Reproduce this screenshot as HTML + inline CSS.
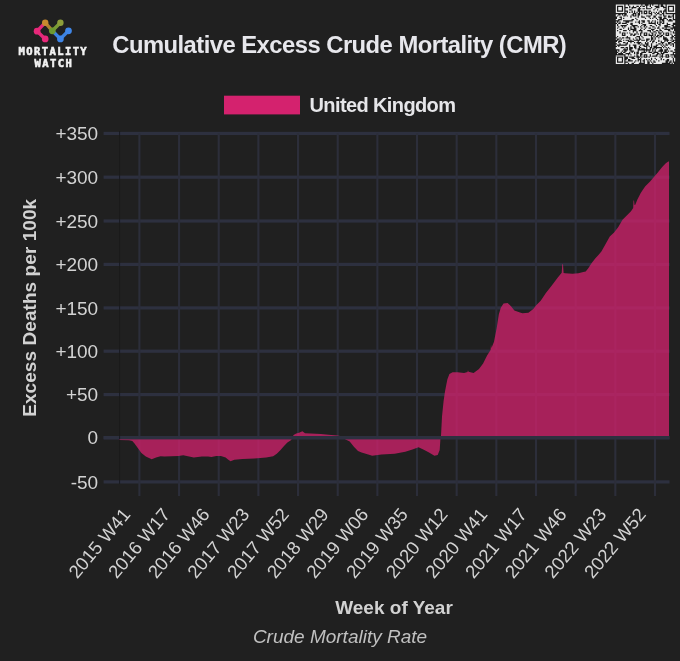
<!DOCTYPE html><html><head><meta charset="utf-8"><style>
html,body{margin:0;padding:0;background:#202020;width:680px;height:661px;overflow:hidden}
svg{display:block;will-change:transform}
text{font-family:"Liberation Sans",Arial,sans-serif}
</style></head><body>
<svg width="680" height="661" viewBox="0 0 680 661">
<rect width="680" height="661" fill="#202020"/>
<g stroke-linecap="round" fill="none" stroke-width="3.4">
<path d="M45.2 22.7 L37.1 31.2 L45.2 38.9" stroke="#e3297a"/>
<path d="M45.2 22.7 L52.3 30.8" stroke="#b08030"/>
<path d="M52.3 30.8 L60.4 22.7" stroke="#7a9a35"/>
<path d="M52.3 30.8 L60.4 38.9 L68.5 30.8" stroke="#3c82e0"/>
</g>
<g>
<circle cx="45.2" cy="22.7" r="3.2" fill="#c98a2e"/>
<circle cx="37.1" cy="31.2" r="3.35" fill="#e8287a"/>
<circle cx="45.2" cy="38.9" r="3.35" fill="#e8287a"/>
<circle cx="52.3" cy="30.8" r="3.35" fill="#6e9a30"/>
<circle cx="60.4" cy="22.7" r="3.2" fill="#8d9e3a"/>
<circle cx="68.5" cy="30.8" r="3.35" fill="#3f86e8"/>
<circle cx="60.4" cy="38.9" r="3.35" fill="#3f86e8"/>
</g>
<text x="53.35" y="55.0" text-anchor="middle" font-weight="bold" font-size="10.5" letter-spacing="1.4" fill="#f2f2f2" stroke="#f2f2f2" stroke-width="0.55" style="font-family:'DejaVu Sans Mono',monospace">MORTALITY</text>
<text x="53.9" y="66.7" text-anchor="middle" font-weight="bold" font-size="10.5" letter-spacing="1.4" fill="#f2f2f2" stroke="#f2f2f2" stroke-width="0.55" style="font-family:'DejaVu Sans Mono',monospace">WATCH</text>
<rect x="615.8" y="4.5" width="59.4" height="59.4" fill="#1a1a1a"/>
<path d="M615.80 4.50h8.49v1.21h-8.49zM625.50 4.50h2.42v1.21h-2.42zM629.13 4.50h12.12v1.21h-12.12zM642.47 4.50h2.42v1.21h-2.42zM648.53 4.50h1.21v1.21h-1.21zM650.96 4.50h1.21v1.21h-1.21zM653.38 4.50h4.85v1.21h-4.85zM659.44 4.50h1.21v1.21h-1.21zM663.08 4.50h2.42v1.21h-2.42zM666.71 4.50h8.49v1.21h-8.49zM615.80 5.71h1.21v1.21h-1.21zM623.07 5.71h1.21v1.21h-1.21zM625.50 5.71h3.64v1.21h-3.64zM630.35 5.71h2.42v1.21h-2.42zM633.98 5.71h2.42v1.21h-2.42zM638.83 5.71h1.21v1.21h-1.21zM641.26 5.71h1.21v1.21h-1.21zM644.89 5.71h1.21v1.21h-1.21zM647.32 5.71h2.42v1.21h-2.42zM650.96 5.71h3.64v1.21h-3.64zM659.44 5.71h1.21v1.21h-1.21zM664.29 5.71h1.21v1.21h-1.21zM666.71 5.71h1.21v1.21h-1.21zM673.99 5.71h1.21v1.21h-1.21zM615.80 6.92h1.21v1.21h-1.21zM618.22 6.92h3.64v1.21h-3.64zM623.07 6.92h1.21v1.21h-1.21zM627.92 6.92h1.21v1.21h-1.21zM630.35 6.92h1.21v1.21h-1.21zM636.41 6.92h2.42v1.21h-2.42zM640.04 6.92h6.06v1.21h-6.06zM647.32 6.92h3.64v1.21h-3.64zM652.17 6.92h3.64v1.21h-3.64zM659.44 6.92h3.64v1.21h-3.64zM666.71 6.92h1.21v1.21h-1.21zM669.14 6.92h3.64v1.21h-3.64zM673.99 6.92h1.21v1.21h-1.21zM615.80 8.14h1.21v1.21h-1.21zM618.22 8.14h3.64v1.21h-3.64zM623.07 8.14h1.21v1.21h-1.21zM625.50 8.14h6.06v1.21h-6.06zM632.77 8.14h4.85v1.21h-4.85zM641.26 8.14h1.21v1.21h-1.21zM644.89 8.14h1.21v1.21h-1.21zM650.96 8.14h3.64v1.21h-3.64zM655.80 8.14h9.70v1.21h-9.70zM666.71 8.14h1.21v1.21h-1.21zM669.14 8.14h3.64v1.21h-3.64zM673.99 8.14h1.21v1.21h-1.21zM615.80 9.35h1.21v1.21h-1.21zM618.22 9.35h3.64v1.21h-3.64zM623.07 9.35h1.21v1.21h-1.21zM625.50 9.35h3.64v1.21h-3.64zM631.56 9.35h6.06v1.21h-6.06zM640.04 9.35h13.33v1.21h-13.33zM654.59 9.35h2.42v1.21h-2.42zM658.23 9.35h6.06v1.21h-6.06zM666.71 9.35h1.21v1.21h-1.21zM669.14 9.35h3.64v1.21h-3.64zM673.99 9.35h1.21v1.21h-1.21zM615.80 10.56h1.21v1.21h-1.21zM623.07 10.56h1.21v1.21h-1.21zM627.92 10.56h3.64v1.21h-3.64zM632.77 10.56h1.21v1.21h-1.21zM635.20 10.56h2.42v1.21h-2.42zM642.47 10.56h1.21v1.21h-1.21zM647.32 10.56h1.21v1.21h-1.21zM650.96 10.56h8.49v1.21h-8.49zM661.87 10.56h1.21v1.21h-1.21zM666.71 10.56h1.21v1.21h-1.21zM673.99 10.56h1.21v1.21h-1.21zM615.80 11.77h8.49v1.21h-8.49zM625.50 11.77h1.21v1.21h-1.21zM627.92 11.77h1.21v1.21h-1.21zM630.35 11.77h1.21v1.21h-1.21zM632.77 11.77h1.21v1.21h-1.21zM635.20 11.77h1.21v1.21h-1.21zM637.62 11.77h1.21v1.21h-1.21zM640.04 11.77h1.21v1.21h-1.21zM642.47 11.77h1.21v1.21h-1.21zM644.89 11.77h1.21v1.21h-1.21zM647.32 11.77h1.21v1.21h-1.21zM649.74 11.77h1.21v1.21h-1.21zM652.17 11.77h1.21v1.21h-1.21zM654.59 11.77h1.21v1.21h-1.21zM657.02 11.77h1.21v1.21h-1.21zM659.44 11.77h1.21v1.21h-1.21zM661.87 11.77h1.21v1.21h-1.21zM664.29 11.77h1.21v1.21h-1.21zM666.71 11.77h8.49v1.21h-8.49zM626.71 12.99h6.06v1.21h-6.06zM636.41 12.99h1.21v1.21h-1.21zM640.04 12.99h1.21v1.21h-1.21zM642.47 12.99h1.21v1.21h-1.21zM647.32 12.99h1.21v1.21h-1.21zM652.17 12.99h2.42v1.21h-2.42zM655.80 12.99h1.21v1.21h-1.21zM659.44 12.99h2.42v1.21h-2.42zM664.29 12.99h1.21v1.21h-1.21zM615.80 14.20h2.42v1.21h-2.42zM620.65 14.20h1.21v1.21h-1.21zM623.07 14.20h1.21v1.21h-1.21zM626.71 14.20h4.85v1.21h-4.85zM633.98 14.20h1.21v1.21h-1.21zM636.41 14.20h1.21v1.21h-1.21zM640.04 14.20h10.91v1.21h-10.91zM652.17 14.20h3.64v1.21h-3.64zM657.02 14.20h2.42v1.21h-2.42zM661.87 14.20h1.21v1.21h-1.21zM664.29 14.20h8.49v1.21h-8.49zM673.99 14.20h1.21v1.21h-1.21zM615.80 15.41h1.21v1.21h-1.21zM618.22 15.41h4.85v1.21h-4.85zM625.50 15.41h1.21v1.21h-1.21zM627.92 15.41h2.42v1.21h-2.42zM631.56 15.41h1.21v1.21h-1.21zM636.41 15.41h1.21v1.21h-1.21zM638.83 15.41h2.42v1.21h-2.42zM642.47 15.41h3.64v1.21h-3.64zM650.96 15.41h2.42v1.21h-2.42zM655.80 15.41h7.27v1.21h-7.27zM666.71 15.41h1.21v1.21h-1.21zM670.35 15.41h1.21v1.21h-1.21zM673.99 15.41h1.21v1.21h-1.21zM617.01 16.62h2.42v1.21h-2.42zM621.86 16.62h8.49v1.21h-8.49zM631.56 16.62h6.06v1.21h-6.06zM638.83 16.62h2.42v1.21h-2.42zM644.89 16.62h3.64v1.21h-3.64zM649.74 16.62h3.64v1.21h-3.64zM655.80 16.62h2.42v1.21h-2.42zM661.87 16.62h2.42v1.21h-2.42zM665.50 16.62h2.42v1.21h-2.42zM671.56 16.62h1.21v1.21h-1.21zM673.99 16.62h1.21v1.21h-1.21zM617.01 17.83h3.64v1.21h-3.64zM621.86 17.83h1.21v1.21h-1.21zM624.29 17.83h10.91v1.21h-10.91zM636.41 17.83h8.49v1.21h-8.49zM646.11 17.83h3.64v1.21h-3.64zM650.96 17.83h1.21v1.21h-1.21zM653.38 17.83h2.42v1.21h-2.42zM657.02 17.83h2.42v1.21h-2.42zM661.87 17.83h1.21v1.21h-1.21zM666.71 17.83h6.06v1.21h-6.06zM673.99 17.83h1.21v1.21h-1.21zM615.80 19.05h2.42v1.21h-2.42zM621.86 19.05h9.70v1.21h-9.70zM633.98 19.05h2.42v1.21h-2.42zM637.62 19.05h19.40v1.21h-19.40zM658.23 19.05h1.21v1.21h-1.21zM664.29 19.05h2.42v1.21h-2.42zM667.93 19.05h1.21v1.21h-1.21zM671.56 19.05h1.21v1.21h-1.21zM619.44 20.26h3.64v1.21h-3.64zM632.77 20.26h6.06v1.21h-6.06zM640.04 20.26h1.21v1.21h-1.21zM644.89 20.26h2.42v1.21h-2.42zM649.74 20.26h2.42v1.21h-2.42zM653.38 20.26h1.21v1.21h-1.21zM655.80 20.26h3.64v1.21h-3.64zM660.65 20.26h1.21v1.21h-1.21zM664.29 20.26h3.64v1.21h-3.64zM672.78 20.26h2.42v1.21h-2.42zM615.80 21.47h1.21v1.21h-1.21zM618.22 21.47h1.21v1.21h-1.21zM620.65 21.47h4.85v1.21h-4.85zM629.13 21.47h6.06v1.21h-6.06zM636.41 21.47h1.21v1.21h-1.21zM640.04 21.47h2.42v1.21h-2.42zM644.89 21.47h3.64v1.21h-3.64zM649.74 21.47h1.21v1.21h-1.21zM652.17 21.47h2.42v1.21h-2.42zM655.80 21.47h1.21v1.21h-1.21zM658.23 21.47h1.21v1.21h-1.21zM661.87 21.47h1.21v1.21h-1.21zM664.29 21.47h10.91v1.21h-10.91zM617.01 22.68h1.21v1.21h-1.21zM620.65 22.68h1.21v1.21h-1.21zM626.71 22.68h3.64v1.21h-3.64zM632.77 22.68h6.06v1.21h-6.06zM640.04 22.68h1.21v1.21h-1.21zM642.47 22.68h6.06v1.21h-6.06zM655.80 22.68h1.21v1.21h-1.21zM658.23 22.68h1.21v1.21h-1.21zM660.65 22.68h1.21v1.21h-1.21zM664.29 22.68h2.42v1.21h-2.42zM667.93 22.68h4.85v1.21h-4.85zM615.80 23.90h1.21v1.21h-1.21zM618.22 23.90h8.49v1.21h-8.49zM627.92 23.90h2.42v1.21h-2.42zM632.77 23.90h9.70v1.21h-9.70zM646.11 23.90h8.49v1.21h-8.49zM655.80 23.90h2.42v1.21h-2.42zM660.65 23.90h6.06v1.21h-6.06zM670.35 23.90h2.42v1.21h-2.42zM615.80 25.11h1.21v1.21h-1.21zM618.22 25.11h2.42v1.21h-2.42zM626.71 25.11h4.85v1.21h-4.85zM637.62 25.11h3.64v1.21h-3.64zM642.47 25.11h1.21v1.21h-1.21zM646.11 25.11h3.64v1.21h-3.64zM652.17 25.11h3.64v1.21h-3.64zM657.02 25.11h2.42v1.21h-2.42zM660.65 25.11h3.64v1.21h-3.64zM667.93 25.11h3.64v1.21h-3.64zM673.99 25.11h1.21v1.21h-1.21zM615.80 26.32h2.42v1.21h-2.42zM619.44 26.32h2.42v1.21h-2.42zM623.07 26.32h1.21v1.21h-1.21zM625.50 26.32h4.85v1.21h-4.85zM631.56 26.32h1.21v1.21h-1.21zM635.20 26.32h2.42v1.21h-2.42zM638.83 26.32h1.21v1.21h-1.21zM641.26 26.32h2.42v1.21h-2.42zM644.89 26.32h1.21v1.21h-1.21zM647.32 26.32h4.85v1.21h-4.85zM654.59 26.32h3.64v1.21h-3.64zM659.44 26.32h4.85v1.21h-4.85zM670.35 26.32h2.42v1.21h-2.42zM615.80 27.53h1.21v1.21h-1.21zM618.22 27.53h4.85v1.21h-4.85zM624.29 27.53h3.64v1.21h-3.64zM629.13 27.53h1.21v1.21h-1.21zM631.56 27.53h2.42v1.21h-2.42zM636.41 27.53h4.85v1.21h-4.85zM642.47 27.53h2.42v1.21h-2.42zM646.11 27.53h2.42v1.21h-2.42zM650.96 27.53h3.64v1.21h-3.64zM655.80 27.53h1.21v1.21h-1.21zM659.44 27.53h2.42v1.21h-2.42zM664.29 27.53h1.21v1.21h-1.21zM666.71 27.53h3.64v1.21h-3.64zM615.80 28.74h3.64v1.21h-3.64zM621.86 28.74h6.06v1.21h-6.06zM629.13 28.74h1.21v1.21h-1.21zM636.41 28.74h3.64v1.21h-3.64zM641.26 28.74h2.42v1.21h-2.42zM644.89 28.74h6.06v1.21h-6.06zM654.59 28.74h4.85v1.21h-4.85zM660.65 28.74h3.64v1.21h-3.64zM670.35 28.74h1.21v1.21h-1.21zM672.78 28.74h1.21v1.21h-1.21zM615.80 29.96h1.21v1.21h-1.21zM618.22 29.96h4.85v1.21h-4.85zM626.71 29.96h2.42v1.21h-2.42zM630.35 29.96h2.42v1.21h-2.42zM636.41 29.96h2.42v1.21h-2.42zM642.47 29.96h4.85v1.21h-4.85zM650.96 29.96h1.21v1.21h-1.21zM653.38 29.96h2.42v1.21h-2.42zM658.23 29.96h1.21v1.21h-1.21zM661.87 29.96h6.06v1.21h-6.06zM670.35 29.96h3.64v1.21h-3.64zM615.80 31.17h3.64v1.21h-3.64zM620.65 31.17h12.12v1.21h-12.12zM633.98 31.17h2.42v1.21h-2.42zM637.62 31.17h3.64v1.21h-3.64zM642.47 31.17h7.27v1.21h-7.27zM650.96 31.17h2.42v1.21h-2.42zM655.80 31.17h2.42v1.21h-2.42zM659.44 31.17h2.42v1.21h-2.42zM663.08 31.17h7.27v1.21h-7.27zM671.56 31.17h1.21v1.21h-1.21zM673.99 31.17h1.21v1.21h-1.21zM615.80 32.38h3.64v1.21h-3.64zM620.65 32.38h1.21v1.21h-1.21zM625.50 32.38h1.21v1.21h-1.21zM627.92 32.38h1.21v1.21h-1.21zM630.35 32.38h6.06v1.21h-6.06zM637.62 32.38h2.42v1.21h-2.42zM642.47 32.38h1.21v1.21h-1.21zM647.32 32.38h3.64v1.21h-3.64zM653.38 32.38h2.42v1.21h-2.42zM657.02 32.38h1.21v1.21h-1.21zM661.87 32.38h1.21v1.21h-1.21zM664.29 32.38h1.21v1.21h-1.21zM669.14 32.38h3.64v1.21h-3.64zM615.80 33.59h6.06v1.21h-6.06zM623.07 33.59h1.21v1.21h-1.21zM625.50 33.59h4.85v1.21h-4.85zM632.77 33.59h1.21v1.21h-1.21zM636.41 33.59h1.21v1.21h-1.21zM638.83 33.59h1.21v1.21h-1.21zM641.26 33.59h2.42v1.21h-2.42zM644.89 33.59h1.21v1.21h-1.21zM647.32 33.59h1.21v1.21h-1.21zM649.74 33.59h2.42v1.21h-2.42zM653.38 33.59h1.21v1.21h-1.21zM655.80 33.59h3.64v1.21h-3.64zM660.65 33.59h2.42v1.21h-2.42zM664.29 33.59h1.21v1.21h-1.21zM666.71 33.59h1.21v1.21h-1.21zM669.14 33.59h1.21v1.21h-1.21zM671.56 33.59h3.64v1.21h-3.64zM615.80 34.81h6.06v1.21h-6.06zM625.50 34.81h4.85v1.21h-4.85zM631.56 34.81h1.21v1.21h-1.21zM635.20 34.81h4.85v1.21h-4.85zM641.26 34.81h2.42v1.21h-2.42zM647.32 34.81h1.21v1.21h-1.21zM653.38 34.81h1.21v1.21h-1.21zM655.80 34.81h1.21v1.21h-1.21zM659.44 34.81h1.21v1.21h-1.21zM663.08 34.81h2.42v1.21h-2.42zM669.14 34.81h2.42v1.21h-2.42zM672.78 34.81h1.21v1.21h-1.21zM615.80 36.02h1.21v1.21h-1.21zM618.22 36.02h8.49v1.21h-8.49zM627.92 36.02h8.49v1.21h-8.49zM640.04 36.02h1.21v1.21h-1.21zM642.47 36.02h8.49v1.21h-8.49zM652.17 36.02h1.21v1.21h-1.21zM654.59 36.02h1.21v1.21h-1.21zM658.23 36.02h1.21v1.21h-1.21zM661.87 36.02h1.21v1.21h-1.21zM664.29 36.02h7.27v1.21h-7.27zM673.99 36.02h1.21v1.21h-1.21zM617.01 37.23h2.42v1.21h-2.42zM620.65 37.23h1.21v1.21h-1.21zM624.29 37.23h1.21v1.21h-1.21zM630.35 37.23h4.85v1.21h-4.85zM636.41 37.23h2.42v1.21h-2.42zM640.04 37.23h2.42v1.21h-2.42zM643.68 37.23h7.27v1.21h-7.27zM653.38 37.23h1.21v1.21h-1.21zM655.80 37.23h2.42v1.21h-2.42zM659.44 37.23h3.64v1.21h-3.64zM666.71 37.23h3.64v1.21h-3.64zM672.78 37.23h1.21v1.21h-1.21zM615.80 38.44h1.21v1.21h-1.21zM619.44 38.44h1.21v1.21h-1.21zM621.86 38.44h7.27v1.21h-7.27zM630.35 38.44h2.42v1.21h-2.42zM633.98 38.44h2.42v1.21h-2.42zM637.62 38.44h1.21v1.21h-1.21zM641.26 38.44h4.85v1.21h-4.85zM649.74 38.44h1.21v1.21h-1.21zM653.38 38.44h1.21v1.21h-1.21zM655.80 38.44h7.27v1.21h-7.27zM667.93 38.44h3.64v1.21h-3.64zM672.78 38.44h2.42v1.21h-2.42zM618.22 39.66h1.21v1.21h-1.21zM620.65 39.66h2.42v1.21h-2.42zM624.29 39.66h1.21v1.21h-1.21zM629.13 39.66h1.21v1.21h-1.21zM631.56 39.66h2.42v1.21h-2.42zM640.04 39.66h1.21v1.21h-1.21zM644.89 39.66h1.21v1.21h-1.21zM648.53 39.66h2.42v1.21h-2.42zM652.17 39.66h1.21v1.21h-1.21zM654.59 39.66h3.64v1.21h-3.64zM659.44 39.66h4.85v1.21h-4.85zM669.14 39.66h1.21v1.21h-1.21zM671.56 39.66h1.21v1.21h-1.21zM617.01 40.87h1.21v1.21h-1.21zM621.86 40.87h6.06v1.21h-6.06zM633.98 40.87h3.64v1.21h-3.64zM638.83 40.87h7.27v1.21h-7.27zM647.32 40.87h2.42v1.21h-2.42zM650.96 40.87h1.21v1.21h-1.21zM654.59 40.87h3.64v1.21h-3.64zM659.44 40.87h1.21v1.21h-1.21zM661.87 40.87h2.42v1.21h-2.42zM665.50 40.87h1.21v1.21h-1.21zM667.93 40.87h3.64v1.21h-3.64zM673.99 40.87h1.21v1.21h-1.21zM615.80 42.08h2.42v1.21h-2.42zM619.44 42.08h3.64v1.21h-3.64zM625.50 42.08h1.21v1.21h-1.21zM627.92 42.08h2.42v1.21h-2.42zM631.56 42.08h2.42v1.21h-2.42zM635.20 42.08h1.21v1.21h-1.21zM641.26 42.08h3.64v1.21h-3.64zM646.11 42.08h1.21v1.21h-1.21zM648.53 42.08h3.64v1.21h-3.64zM653.38 42.08h2.42v1.21h-2.42zM657.02 42.08h3.64v1.21h-3.64zM664.29 42.08h3.64v1.21h-3.64zM671.56 42.08h2.42v1.21h-2.42zM617.01 43.29h2.42v1.21h-2.42zM620.65 43.29h4.85v1.21h-4.85zM627.92 43.29h9.70v1.21h-9.70zM640.04 43.29h1.21v1.21h-1.21zM642.47 43.29h2.42v1.21h-2.42zM648.53 43.29h2.42v1.21h-2.42zM652.17 43.29h6.06v1.21h-6.06zM660.65 43.29h1.21v1.21h-1.21zM663.08 43.29h2.42v1.21h-2.42zM666.71 43.29h1.21v1.21h-1.21zM670.35 43.29h1.21v1.21h-1.21zM673.99 43.29h1.21v1.21h-1.21zM615.80 44.50h1.21v1.21h-1.21zM626.71 44.50h2.42v1.21h-2.42zM630.35 44.50h2.42v1.21h-2.42zM636.41 44.50h3.64v1.21h-3.64zM641.26 44.50h1.21v1.21h-1.21zM644.89 44.50h1.21v1.21h-1.21zM648.53 44.50h2.42v1.21h-2.42zM652.17 44.50h3.64v1.21h-3.64zM658.23 44.50h2.42v1.21h-2.42zM661.87 44.50h1.21v1.21h-1.21zM664.29 44.50h1.21v1.21h-1.21zM667.93 44.50h2.42v1.21h-2.42zM671.56 44.50h1.21v1.21h-1.21zM673.99 44.50h1.21v1.21h-1.21zM617.01 45.72h1.21v1.21h-1.21zM619.44 45.72h9.70v1.21h-9.70zM630.35 45.72h3.64v1.21h-3.64zM636.41 45.72h2.42v1.21h-2.42zM640.04 45.72h3.64v1.21h-3.64zM647.32 45.72h1.21v1.21h-1.21zM649.74 45.72h1.21v1.21h-1.21zM652.17 45.72h1.21v1.21h-1.21zM657.02 45.72h4.85v1.21h-4.85zM663.08 45.72h1.21v1.21h-1.21zM665.50 45.72h7.27v1.21h-7.27zM673.99 45.72h1.21v1.21h-1.21zM615.80 46.93h4.85v1.21h-4.85zM624.29 46.93h1.21v1.21h-1.21zM627.92 46.93h1.21v1.21h-1.21zM632.77 46.93h1.21v1.21h-1.21zM636.41 46.93h2.42v1.21h-2.42zM641.26 46.93h4.85v1.21h-4.85zM647.32 46.93h2.42v1.21h-2.42zM652.17 46.93h1.21v1.21h-1.21zM661.87 46.93h1.21v1.21h-1.21zM664.29 46.93h1.21v1.21h-1.21zM666.71 46.93h1.21v1.21h-1.21zM669.14 46.93h6.06v1.21h-6.06zM615.80 48.14h8.49v1.21h-8.49zM625.50 48.14h1.21v1.21h-1.21zM627.92 48.14h1.21v1.21h-1.21zM632.77 48.14h2.42v1.21h-2.42zM636.41 48.14h1.21v1.21h-1.21zM640.04 48.14h1.21v1.21h-1.21zM644.89 48.14h1.21v1.21h-1.21zM647.32 48.14h2.42v1.21h-2.42zM650.96 48.14h1.21v1.21h-1.21zM654.59 48.14h1.21v1.21h-1.21zM657.02 48.14h3.64v1.21h-3.64zM661.87 48.14h4.85v1.21h-4.85zM667.93 48.14h1.21v1.21h-1.21zM670.35 48.14h4.85v1.21h-4.85zM619.44 49.35h3.64v1.21h-3.64zM627.92 49.35h1.21v1.21h-1.21zM631.56 49.35h6.06v1.21h-6.06zM650.96 49.35h1.21v1.21h-1.21zM653.38 49.35h1.21v1.21h-1.21zM655.80 49.35h3.64v1.21h-3.64zM663.08 49.35h1.21v1.21h-1.21zM667.93 49.35h6.06v1.21h-6.06zM617.01 50.57h1.21v1.21h-1.21zM619.44 50.57h2.42v1.21h-2.42zM623.07 50.57h1.21v1.21h-1.21zM626.71 50.57h3.64v1.21h-3.64zM633.98 50.57h3.64v1.21h-3.64zM638.83 50.57h4.85v1.21h-4.85zM644.89 50.57h1.21v1.21h-1.21zM647.32 50.57h1.21v1.21h-1.21zM649.74 50.57h2.42v1.21h-2.42zM653.38 50.57h1.21v1.21h-1.21zM655.80 50.57h2.42v1.21h-2.42zM663.08 50.57h1.21v1.21h-1.21zM666.71 50.57h1.21v1.21h-1.21zM669.14 50.57h1.21v1.21h-1.21zM672.78 50.57h2.42v1.21h-2.42zM618.22 51.78h2.42v1.21h-2.42zM621.86 51.78h1.21v1.21h-1.21zM625.50 51.78h3.64v1.21h-3.64zM630.35 51.78h1.21v1.21h-1.21zM632.77 51.78h1.21v1.21h-1.21zM635.20 51.78h1.21v1.21h-1.21zM638.83 51.78h2.42v1.21h-2.42zM646.11 51.78h2.42v1.21h-2.42zM652.17 51.78h1.21v1.21h-1.21zM658.23 51.78h2.42v1.21h-2.42zM661.87 51.78h1.21v1.21h-1.21zM667.93 51.78h4.85v1.21h-4.85zM617.01 52.99h1.21v1.21h-1.21zM623.07 52.99h2.42v1.21h-2.42zM630.35 52.99h3.64v1.21h-3.64zM635.20 52.99h1.21v1.21h-1.21zM638.83 52.99h1.21v1.21h-1.21zM642.47 52.99h9.70v1.21h-9.70zM654.59 52.99h2.42v1.21h-2.42zM659.44 52.99h1.21v1.21h-1.21zM664.29 52.99h8.49v1.21h-8.49zM673.99 52.99h1.21v1.21h-1.21zM625.50 54.20h2.42v1.21h-2.42zM629.13 54.20h1.21v1.21h-1.21zM631.56 54.20h4.85v1.21h-4.85zM637.62 54.20h2.42v1.21h-2.42zM642.47 54.20h1.21v1.21h-1.21zM647.32 54.20h2.42v1.21h-2.42zM650.96 54.20h4.85v1.21h-4.85zM658.23 54.20h1.21v1.21h-1.21zM660.65 54.20h1.21v1.21h-1.21zM663.08 54.20h2.42v1.21h-2.42zM669.14 54.20h1.21v1.21h-1.21zM615.80 55.41h8.49v1.21h-8.49zM625.50 55.41h8.49v1.21h-8.49zM635.20 55.41h1.21v1.21h-1.21zM638.83 55.41h1.21v1.21h-1.21zM641.26 55.41h2.42v1.21h-2.42zM644.89 55.41h1.21v1.21h-1.21zM647.32 55.41h2.42v1.21h-2.42zM650.96 55.41h1.21v1.21h-1.21zM657.02 55.41h3.64v1.21h-3.64zM663.08 55.41h2.42v1.21h-2.42zM666.71 55.41h1.21v1.21h-1.21zM669.14 55.41h4.85v1.21h-4.85zM615.80 56.63h1.21v1.21h-1.21zM623.07 56.63h1.21v1.21h-1.21zM627.92 56.63h1.21v1.21h-1.21zM633.98 56.63h2.42v1.21h-2.42zM640.04 56.63h1.21v1.21h-1.21zM642.47 56.63h1.21v1.21h-1.21zM647.32 56.63h1.21v1.21h-1.21zM649.74 56.63h9.70v1.21h-9.70zM660.65 56.63h1.21v1.21h-1.21zM663.08 56.63h2.42v1.21h-2.42zM669.14 56.63h2.42v1.21h-2.42zM672.78 56.63h1.21v1.21h-1.21zM615.80 57.84h1.21v1.21h-1.21zM618.22 57.84h3.64v1.21h-3.64zM623.07 57.84h1.21v1.21h-1.21zM627.92 57.84h3.64v1.21h-3.64zM635.20 57.84h2.42v1.21h-2.42zM638.83 57.84h1.21v1.21h-1.21zM641.26 57.84h9.70v1.21h-9.70zM652.17 57.84h2.42v1.21h-2.42zM655.80 57.84h4.85v1.21h-4.85zM661.87 57.84h10.91v1.21h-10.91zM673.99 57.84h1.21v1.21h-1.21zM615.80 59.05h1.21v1.21h-1.21zM618.22 59.05h3.64v1.21h-3.64zM623.07 59.05h1.21v1.21h-1.21zM626.71 59.05h1.21v1.21h-1.21zM630.35 59.05h7.27v1.21h-7.27zM641.26 59.05h2.42v1.21h-2.42zM644.89 59.05h1.21v1.21h-1.21zM647.32 59.05h1.21v1.21h-1.21zM649.74 59.05h1.21v1.21h-1.21zM652.17 59.05h3.64v1.21h-3.64zM657.02 59.05h3.64v1.21h-3.64zM661.87 59.05h1.21v1.21h-1.21zM664.29 59.05h2.42v1.21h-2.42zM669.14 59.05h3.64v1.21h-3.64zM673.99 59.05h1.21v1.21h-1.21zM615.80 60.26h1.21v1.21h-1.21zM618.22 60.26h3.64v1.21h-3.64zM623.07 60.26h1.21v1.21h-1.21zM625.50 60.26h2.42v1.21h-2.42zM632.77 60.26h2.42v1.21h-2.42zM636.41 60.26h1.21v1.21h-1.21zM638.83 60.26h1.21v1.21h-1.21zM641.26 60.26h1.21v1.21h-1.21zM644.89 60.26h2.42v1.21h-2.42zM648.53 60.26h1.21v1.21h-1.21zM650.96 60.26h2.42v1.21h-2.42zM654.59 60.26h3.64v1.21h-3.64zM659.44 60.26h6.06v1.21h-6.06zM669.14 60.26h1.21v1.21h-1.21zM671.56 60.26h1.21v1.21h-1.21zM673.99 60.26h1.21v1.21h-1.21zM615.80 61.48h1.21v1.21h-1.21zM623.07 61.48h1.21v1.21h-1.21zM627.92 61.48h6.06v1.21h-6.06zM635.20 61.48h4.85v1.21h-4.85zM641.26 61.48h2.42v1.21h-2.42zM644.89 61.48h2.42v1.21h-2.42zM649.74 61.48h1.21v1.21h-1.21zM652.17 61.48h1.21v1.21h-1.21zM655.80 61.48h9.70v1.21h-9.70zM667.93 61.48h1.21v1.21h-1.21zM671.56 61.48h1.21v1.21h-1.21zM615.80 62.69h8.49v1.21h-8.49zM625.50 62.69h2.42v1.21h-2.42zM629.13 62.69h2.42v1.21h-2.42zM633.98 62.69h4.85v1.21h-4.85zM644.89 62.69h2.42v1.21h-2.42zM649.74 62.69h2.42v1.21h-2.42zM653.38 62.69h8.49v1.21h-8.49zM670.35 62.69h1.21v1.21h-1.21zM672.78 62.69h1.21v1.21h-1.21z" fill="#ebebeb"/>
<text x="339.5" y="53.1" text-anchor="middle" font-size="23.8" textLength="454.5" lengthAdjust="spacing" font-weight="bold" fill="#e7e7ec">Cumulative Excess Crude Mortality (CMR)</text>
<rect x="224" y="95.7" width="76" height="18.7" fill="#d4226e"/>
<text x="309.5" y="111.6" font-size="20" textLength="146.5" lengthAdjust="spacing" font-weight="bold" fill="#e6e6e9">United Kingdom</text>
<rect x="103.6" y="131.85" width="565.90" height="3.2" fill="#2d303f"/>
<text x="98.2" y="140.05" text-anchor="end" font-size="19" fill="#d2d2d2">+350</text>
<rect x="103.6" y="175.60" width="565.90" height="3.2" fill="#2d303f"/>
<text x="98.2" y="183.80" text-anchor="end" font-size="19" fill="#d2d2d2">+300</text>
<rect x="103.6" y="219.40" width="565.90" height="3.2" fill="#2d303f"/>
<text x="98.2" y="227.60" text-anchor="end" font-size="19" fill="#d2d2d2">+250</text>
<rect x="103.6" y="262.80" width="565.90" height="3.2" fill="#2d303f"/>
<text x="98.2" y="271.00" text-anchor="end" font-size="19" fill="#d2d2d2">+200</text>
<rect x="103.6" y="306.30" width="565.90" height="3.2" fill="#2d303f"/>
<text x="98.2" y="314.50" text-anchor="end" font-size="19" fill="#d2d2d2">+150</text>
<rect x="103.6" y="349.60" width="565.90" height="3.2" fill="#2d303f"/>
<text x="98.2" y="357.80" text-anchor="end" font-size="19" fill="#d2d2d2">+100</text>
<rect x="103.6" y="393.00" width="565.90" height="3.2" fill="#2d303f"/>
<text x="98.2" y="401.20" text-anchor="end" font-size="19" fill="#d2d2d2">+50</text>
<rect x="103.6" y="436.10" width="565.90" height="3.2" fill="#2d303f"/>
<text x="98.2" y="444.30" text-anchor="end" font-size="19" fill="#d2d2d2">0</text>
<rect x="103.6" y="480.30" width="565.90" height="3.2" fill="#2d303f"/>
<text x="98.2" y="488.50" text-anchor="end" font-size="19" fill="#d2d2d2">-50</text>
<rect x="138.35" y="133.3" width="2.1" height="362.70" fill="#2c2e3a"/>
<rect x="178.01" y="133.3" width="2.1" height="362.70" fill="#2c2e3a"/>
<rect x="217.67" y="133.3" width="2.1" height="362.70" fill="#2c2e3a"/>
<rect x="257.33" y="133.3" width="2.1" height="362.70" fill="#2c2e3a"/>
<rect x="296.99" y="133.3" width="2.1" height="362.70" fill="#2c2e3a"/>
<rect x="336.65" y="133.3" width="2.1" height="362.70" fill="#2c2e3a"/>
<rect x="376.31" y="133.3" width="2.1" height="362.70" fill="#2c2e3a"/>
<rect x="415.97" y="133.3" width="2.1" height="362.70" fill="#2c2e3a"/>
<rect x="455.63" y="133.3" width="2.1" height="362.70" fill="#2c2e3a"/>
<rect x="495.29" y="133.3" width="2.1" height="362.70" fill="#2c2e3a"/>
<rect x="534.95" y="133.3" width="2.1" height="362.70" fill="#2c2e3a"/>
<rect x="574.61" y="133.3" width="2.1" height="362.70" fill="#2c2e3a"/>
<rect x="614.27" y="133.3" width="2.1" height="362.70" fill="#2c2e3a"/>
<rect x="653.93" y="133.3" width="2.1" height="362.70" fill="#2c2e3a"/>
<polygon points="119.2,437.7 119.2,440.0 129,440.3 132.3,440.9 134.5,443.4 137.6,447.8 141.4,452.9 145.8,456.6 151.7,459.2 156.1,457.4 160.5,456.3 164.4,456.5 178.5,455.9 183.2,455.3 193.8,457.4 202,456.5 208,456.5 211.5,457 216.2,455.9 220.9,455.9 225.6,457.4 228,459.5 230.5,461.3 234.4,459.7 242.6,459.1 254.4,458.5 266.2,457.4 273.2,456.2 276.8,453.8 280.3,450.3 283.8,446.2 287.4,442.6 290.9,440.3 292.6,437.7 293.5,435 296.2,433.4 299.1,432.8 302.4,431.3 305,433.2 310.6,433.4 320.9,433.9 331.2,434.9 337.4,435.4 341.5,436.2 343,437.7 345.6,439.6 349.7,441.6 353.9,446.8 358,450.9 361.6,452.5 368.2,454.5 372.2,455.8 381.5,454.5 394.7,453.8 405.3,451.8 413.2,449.2 418.5,447.2 423.8,449.8 429,452.5 434.4,455.8 437.7,455.1 439.7,450 440.5,437.7 441,435.8 442,416.6 443.6,401 444.9,392 446.1,385.7 447.4,379.3 449.4,374.1 452.6,372.2 457.7,372.2 464.1,372.9 467.5,372 468,370.3 468.5,371.8 473.6,373 479,368.9 483.1,363.5 487.2,355.3 490.6,349.9 491,344.4 491.5,348 494,341.7 496.7,328.1 498.8,314.5 500.8,307.7 503.5,303.6 507.6,302.9 511,306.3 514.4,310.4 520,312.4 522.4,313.3 528.4,312.7 533.3,309 536,305.4 540.9,300.5 545.7,293.3 551.8,285.4 557.8,277.5 561.7,272.7 562.3,264.2 563,264.2 563.6,273 565.1,273.3 572.4,273.7 578.4,273.3 583.3,272.1 585.7,271.5 588.1,268.5 591.7,263 595.4,258.2 598,255.6 601.4,251.4 605.6,244 609.8,236.6 614.1,232.4 618.3,227.1 622.5,219.7 626.8,215.4 631,211.2 633.2,208.1 633.5,200.6 634,200.6 634.5,205 635.3,204.8 637.4,199.5 640.6,193.2 642.7,190 645.3,186.3 650.1,181.5 653.7,177.2 657.4,173 662.2,167 665.8,163.3 668.3,161.5 669,161.5 669,437.7" fill="#d4226e" fill-opacity="0.75"/>
<rect x="103.6" y="436.00" width="565.90" height="3.4" fill="#2d303f"/>
<rect x="119" y="131" width="1.1" height="353" fill="#000" fill-opacity="0.16"/>
<rect x="119" y="131.85" width="1.1" height="3.2" fill="#000" fill-opacity="0.3"/>
<rect x="119" y="175.60" width="1.1" height="3.2" fill="#000" fill-opacity="0.3"/>
<rect x="119" y="219.40" width="1.1" height="3.2" fill="#000" fill-opacity="0.3"/>
<rect x="119" y="262.80" width="1.1" height="3.2" fill="#000" fill-opacity="0.3"/>
<rect x="119" y="306.30" width="1.1" height="3.2" fill="#000" fill-opacity="0.3"/>
<rect x="119" y="349.60" width="1.1" height="3.2" fill="#000" fill-opacity="0.3"/>
<rect x="119" y="393.00" width="1.1" height="3.2" fill="#000" fill-opacity="0.3"/>
<rect x="119" y="436.10" width="1.1" height="3.2" fill="#000" fill-opacity="0.3"/>
<rect x="119" y="480.30" width="1.1" height="3.2" fill="#000" fill-opacity="0.3"/>
<text transform="translate(127.60,511.8) rotate(-50)" text-anchor="end" dominant-baseline="middle" font-size="18.5" fill="#d2d2d2">2015 W41</text>
<text transform="translate(167.26,511.8) rotate(-50)" text-anchor="end" dominant-baseline="middle" font-size="18.5" fill="#d2d2d2">2016 W17</text>
<text transform="translate(206.92,511.8) rotate(-50)" text-anchor="end" dominant-baseline="middle" font-size="18.5" fill="#d2d2d2">2016 W46</text>
<text transform="translate(246.58,511.8) rotate(-50)" text-anchor="end" dominant-baseline="middle" font-size="18.5" fill="#d2d2d2">2017 W23</text>
<text transform="translate(286.24,511.8) rotate(-50)" text-anchor="end" dominant-baseline="middle" font-size="18.5" fill="#d2d2d2">2017 W52</text>
<text transform="translate(325.90,511.8) rotate(-50)" text-anchor="end" dominant-baseline="middle" font-size="18.5" fill="#d2d2d2">2018 W29</text>
<text transform="translate(365.56,511.8) rotate(-50)" text-anchor="end" dominant-baseline="middle" font-size="18.5" fill="#d2d2d2">2019 W06</text>
<text transform="translate(405.22,511.8) rotate(-50)" text-anchor="end" dominant-baseline="middle" font-size="18.5" fill="#d2d2d2">2019 W35</text>
<text transform="translate(444.88,511.8) rotate(-50)" text-anchor="end" dominant-baseline="middle" font-size="18.5" fill="#d2d2d2">2020 W12</text>
<text transform="translate(484.54,511.8) rotate(-50)" text-anchor="end" dominant-baseline="middle" font-size="18.5" fill="#d2d2d2">2020 W41</text>
<text transform="translate(524.20,511.8) rotate(-50)" text-anchor="end" dominant-baseline="middle" font-size="18.5" fill="#d2d2d2">2021 W17</text>
<text transform="translate(563.86,511.8) rotate(-50)" text-anchor="end" dominant-baseline="middle" font-size="18.5" fill="#d2d2d2">2021 W46</text>
<text transform="translate(603.52,511.8) rotate(-50)" text-anchor="end" dominant-baseline="middle" font-size="18.5" fill="#d2d2d2">2022 W23</text>
<text transform="translate(643.18,511.8) rotate(-50)" text-anchor="end" dominant-baseline="middle" font-size="18.5" fill="#d2d2d2">2022 W52</text>
<text transform="translate(36.2,307.8) rotate(-90)" text-anchor="middle" font-size="19" textLength="218" lengthAdjust="spacing" font-weight="bold" fill="#d2d2d2">Excess Deaths per 100k</text>
<text x="394" y="613.9" text-anchor="middle" font-size="19" font-weight="bold" fill="#d2d2d2">Week of Year</text>
<text x="340" y="643.2" text-anchor="middle" font-size="19" font-style="italic" fill="#c0c0c0">Crude Mortality Rate</text>
</svg></body></html>
